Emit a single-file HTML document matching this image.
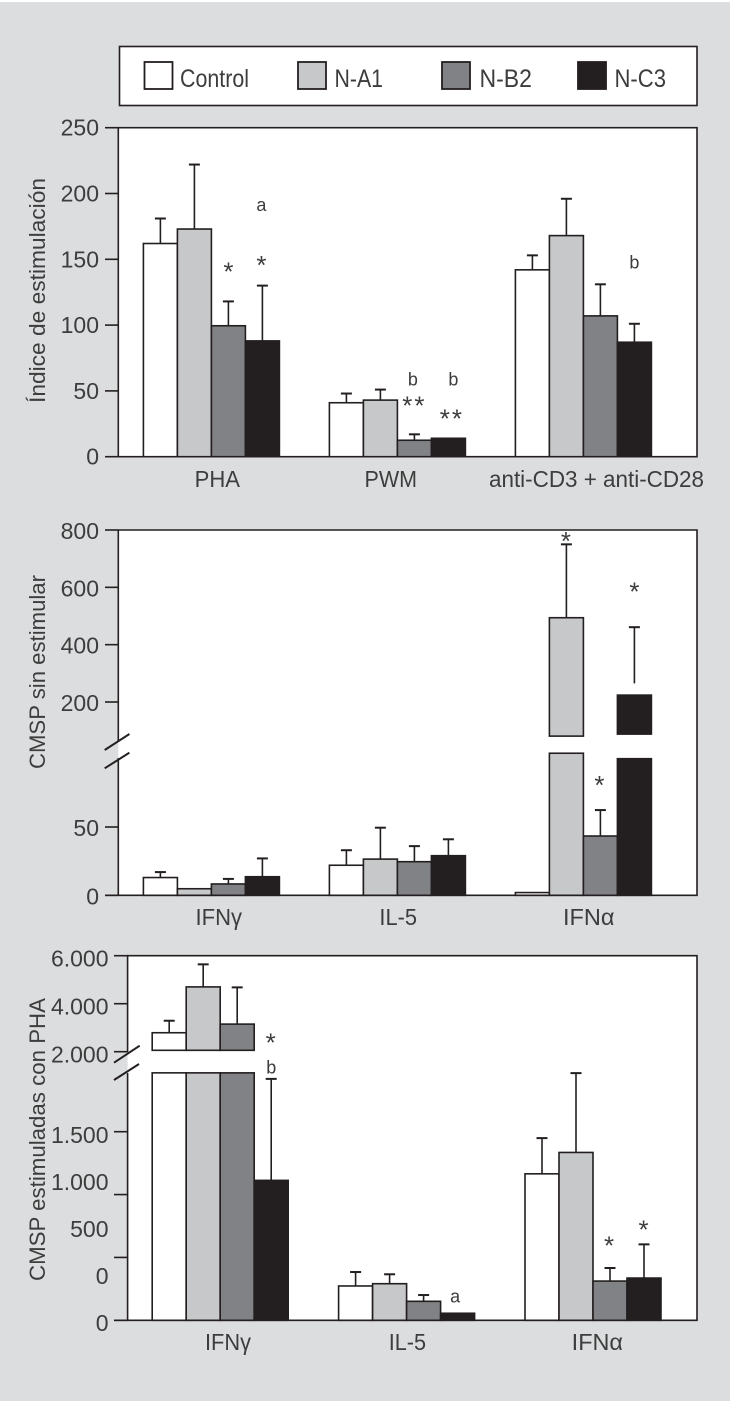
<!DOCTYPE html>
<html lang="es">
<head>
<meta charset="utf-8">
<title>Bar charts</title>
<style>
html,body{margin:0;padding:0;background:#fff;}
svg{display:block;}
text{font-family:"Liberation Sans",sans-serif;fill:#3d3d3d;}
</style>
</head>
<body>
<svg id="chart" xmlns="http://www.w3.org/2000/svg" width="730" height="1403" viewBox="0 0 730 1403">
<rect x="0" y="2" width="730" height="1399" fill="#dcddde"/>
</svg>
<script>
// ---------- shared data ----------
const seriesNames = ['Control', 'N-A1', 'N-B2', 'N-C3'];

// ---------- panel 1: Índice de estimulación ----------
const p1Categories = ['PHA', 'PWM', 'anti-CD3 + anti-CD28'];
const p1Ticks = [0, 50, 100, 150, 200, 250];
const p1Control = [162, 41, 142];
const p1NA1 = [173, 43, 168];
const p1NB2 = [99.5, 12.5, 107];
const p1NC3 = [88, 14, 87];
const p1ControlErr = [181, 48, 153];
const p1NA1Err = [222, 51, 196];
const p1NB2Err = [118, 17, 131];
const p1NC3Err = [130, null, 101];

// ---------- panel 2: CMSP sin estimular ----------
const p2Categories = ['IFNγ', 'IL-5', 'IFNα'];
const p2LowTicks = [0, 50];
const p2HighTicks = [200, 400, 600, 800];
const p2Control = [13, 22, 2];
const p2NA1 = [4.8, 26.5, 494];
const p2NB2 = [8.3, 24.6, 43.4];
const p2NC3 = [13.6, 29, 224];
const p2ControlErr = [17, 33, null];
const p2NA1Err = [null, 49.5, 750];
const p2NB2Err = [12, 36, 62.4];
const p2NC3Err = [27, 41, 461];
const p2NA1BreakTop = [null, null, 104];
const p2NA1BreakBase = [null, null, 81];
const p2NC3BreakTop = [null, null, 100];
const p2NC3BreakBase = [null, null, 88];
const p2NB2ErrFrom = [null, null, 38];
const p2NC3ErrFrom = [null, null, 265];

// ---------- panel 3: CMSP estimuladas con PHA ----------
const p3Categories = ['IFNγ', 'IL-5', 'IFNα'];
const p3LowTicks = [0, 500, 1000, 1500];
const p3HighTicks = [2000, 4000, 6000];
const p3LowLabels = ['0', '0', '500', '1.000', '1.500'];
const p3HighLabels = ['2.000', '4.000', '6.000'];
const p3Control = [2790, 273, 1165];
const p3NA1 = [4700, 291, 1335];
const p3NB2 = [3150, 151, 312];
const p3NC3 = [1113, 56, 336];
const p3ControlErr = [3290, 384, 1449];
const p3NA1Err = [5640, 366, 1966];
const p3NB2Err = [4680, 201, 416];
const p3NC3Err = [1920, null, 604];
const p3ControlBreakTop = [1968, null, null];
const p3ControlBreakBase = [2058, null, null];
const p3NA1BreakTop = [1968, null, null];
const p3NA1BreakBase = [2058, null, null];
const p3NB2BreakTop = [1968, null, null];
const p3NB2BreakBase = [2058, null, null];

// ---------- drawing ----------
const NS = 'http://www.w3.org/2000/svg';
const root = document.getElementById('chart');
const INK = '#231f20';
const FILLS = ['#ffffff', '#c7c8ca', '#808285', '#231f20'];
const BAR_W = 34;

function linear(d0, d1, r0, r1) {
  return function (v) { return r0 + (v - d0) * (r1 - r0) / (d1 - d0); };
}
function make(tag, parent, props) {
  const e = document.createElementNS(NS, tag);
  for (const k in props) e.setAttribute(k, props[k]);
  parent.appendChild(e);
  return e;
}
function line(parent, x1, y1, x2, y2, w) {
  return make('line', parent, { x1: x1, y1: y1, x2: x2, y2: y2, stroke: INK, 'stroke-width': w || 1.6 });
}
function label(parent, str, x1, x2, baseline, size) {
  const t = make('text', parent, { x: x1, y: baseline, 'font-size': size, textLength: x2 - x1, lengthAdjust: 'spacingAndGlyphs' });
  t.textContent = str;
  return t;
}
function rightLabel(parent, str, xRight, baseline) {
  const t = make('text', parent, { x: xRight, y: baseline, 'font-size': 23, 'text-anchor': 'end' });
  t.textContent = str;
  return t;
}
function yTitle(parent, str, x, yBottom, yTop) {
  const t = make('text', parent, { x: 0, y: 0, 'font-size': 22, textLength: yBottom - yTop, lengthAdjust: 'spacingAndGlyphs', transform: 'translate(' + x + ',' + yBottom + ') rotate(-90)' });
  t.textContent = str;
  return t;
}
function drawBar(parent, x, yTop, yBase, s) {
  const r = make('rect', parent, { x: x, y: yTop, width: BAR_W, height: Math.max(0, yBase - yTop), fill: FILLS[s], stroke: INK, 'stroke-width': 1.6 });
  return r;
}
function drawErr(parent, cx, yFrom, yTo) {
  const g = make('g', parent, {});
  line(g, cx, yFrom, cx, yTo, 1.6);
  line(g, cx - 5.5, yTo, cx + 5.5, yTo, 2);
  return g;
}
function annotate(parent, str, cx, yCenter) {
  if (str === '*' || str === '**') {
    const t = make('text', parent, { x: cx, y: yCenter + 11.5, 'font-size': 26, 'text-anchor': 'middle', 'letter-spacing': str === '**' ? 2 : 0 });
    t.textContent = str;
    return t;
  }
  const t = make('text', parent, { x: cx, y: yCenter + (str === 'a' ? 5 : 6.5), 'font-size': 18, 'text-anchor': 'middle' });
  t.textContent = str;
  return t;
}

// ---------- legend ----------
const legend = make('g', root, {});


const legendBox = make('rect', legend, { x: 119.5, y: 46.5, width: 577.5, height: 59, fill: '#fff', stroke: INK, 'stroke-width': 1.6 });


const legendSwatchLeft = [144.5, 298, 442, 578];
const legendTextLeft = [180, 334.5, 479.5, 614.5];
const legendTextRight = [249, 383, 532, 666];
seriesNames.forEach(function (name, s) {
  const sw = make('rect', legend, { x: legendSwatchLeft[s], y: 62, width: 28, height: 27, fill: FILLS[s], stroke: INK, 'stroke-width': 1.8 });
  
  
  const tx = label(legend, name, legendTextLeft[s], legendTextRight[s], 87, 25);
  
  
});

function drawSeriesBars(g, panelKey, cats, x0, step, values, errs, yMain, yLow, breakTops, breakBases, errFroms) {
  cats.forEach(function (cat, c) {
    values.forEach(function (vals, s) {
      const x = x0 + c * step + s * BAR_W;
      const cx = x + BAR_W / 2;
      const base = yLow(0);
      const broken = breakTops && breakTops[s] && breakTops[s][c] !== null && breakTops[s][c] !== undefined;
      const yFn = broken ? yMain : yLow;
      const top = yFn(vals[c]);
      const err = errs[s][c];
      if (err !== null) {
        const from = errFroms && errFroms[s] && errFroms[s][c] !== null && errFroms[s][c] !== undefined
          ? (s === 2 ? yLow(errFroms[s][c]) : yFn(errFroms[s][c])) : top;
        const eb = drawErr(g, cx, from, yFn(err));
        
        
      }
      if (broken) {
        const upper = drawBar(g, x, top, yMain(breakBases[s][c]), s);
        
        
        const lower = drawBar(g, x, yLow(breakTops[s][c]), base, s);
        
        
      } else {
        const bar = drawBar(g, x, top, base, s);
        
        
      }
    });
  });
}

// ---------- panel 1 ----------
(function () {
  const g = make('g', root, {});
  
  
  const y = linear(0, 250, 456.7, 127.7);
  const plot = make('rect', g, { x: 118.3, y: 127.7, width: 578.7, height: 329, fill: '#fff', stroke: INK, 'stroke-width': 1.6 });
  
  
  p1Ticks.forEach(function (v) {
    const tk = line(g, 105, y(v), 118.3, y(v));
    
    
    const tl = rightLabel(g, String(v), 99, y(v) + 8);
    
    
  });
  const values = [p1Control, p1NA1, p1NB2, p1NC3];
  const errs = [p1ControlErr, p1NA1Err, p1NB2Err, p1NC3Err];
  drawSeriesBars(g, 'p1', p1Categories, 143.4, 186, values, errs, y, y, null, null, null);
  const title = yTitle(g, 'Índice de estimulación', 45, 403, 178);
  
  
  const xLefts = [194.6, 364.5, 489];
  const xRights = [240, 417, 704];
  p1Categories.forEach(function (cat, c) {
    const xl = label(g, cat, xLefts[c], xRights[c], 487, 23);
    
    
  });
  const xBar = function (c, s, dx) { return 143.4 + c * 186 + s * BAR_W + BAR_W / 2 + dx; };
  const notes = [['*', 0, 2, 142.6, 0], ['*', 0, 3, 147.7, -1], ['a', 0, 3, 190.5, -1],
    ['b', 1, 2, 59, -1.5], ['b', 1, 3, 59, 5], ['**', 1, 2, 40.8, 0], ['**', 1, 3, 30.8, 3.5], ['b', 2, 3, 148, 0]];
  notes.forEach(function (n) {
    const a = annotate(g, n[0], xBar(n[1], n[2], n[4]), y(n[3]));
    
    
  });
})();

// ---------- panel 2 ----------
(function () {
  const g = make('g', root, {});
  
  
  const yLow = linear(0, 50, 895.3, 827);
  const yHigh = linear(200, 800, 702, 530);
  const plot = make('rect', g, { x: 118.3, y: 530, width: 578.7, height: 365.3, fill: '#fff' });
  
  
  const frame = make('path', g, { d: 'M118.3 741V530H697V895.3H105M118.3 895.3V758', fill: 'none', stroke: INK, 'stroke-width': 1.6 });
  
  
  p2HighTicks.forEach(function (v) {
    const tk = line(g, 105, yHigh(v), 118.3, yHigh(v));
    
    
    const tl = rightLabel(g, String(v), 99, yHigh(v) + 9);
    
    
  });
  p2LowTicks.forEach(function (v) {
    const tk = line(g, 105, yLow(v), 118.3, yLow(v));
    
    
    const tl = rightLabel(g, String(v), 99, yLow(v) + 9);
    
    
  });
  const s1 = line(g, 104.7, 750, 129.4, 734, 2);
  
  
  const s2 = line(g, 104.7, 768.3, 129.4, 752.7, 2);
  
  
  const values = [p2Control, p2NA1, p2NB2, p2NC3];
  const errs = [p2ControlErr, p2NA1Err, p2NB2Err, p2NC3Err];
  const tops = [null, p2NA1BreakTop, null, p2NC3BreakTop];
  const bases = [null, p2NA1BreakBase, null, p2NC3BreakBase];
  const froms = [null, null, p2NB2ErrFrom, p2NC3ErrFrom];
  drawSeriesBars(g, 'p2', p2Categories, 143.4, 186, values, errs, yHigh, yLow, tops, bases, froms);
  const title = yTitle(g, 'CMSP sin estimular', 45, 769, 575);
  
  
  const xLefts = [195.5, 379.4, 563];
  const xRights = [242, 417, 614.5];
  p2Categories.forEach(function (cat, c) {
    const xl = label(g, cat, xLefts[c], xRights[c], 925, 23);
    
    
  });
  const xBar = function (c, s) { return 143.4 + c * 186 + s * BAR_W + BAR_W / 2; };
  const a1 = annotate(g, '*', xBar(2, 1) - 0.5, yHigh(771));
  
  
  const a2 = annotate(g, '*', xBar(2, 3), yHigh(595));
  
  
  const a3 = annotate(g, '*', xBar(2, 2) - 1, yLow(82.7));
  
  
})();

// ---------- panel 3 ----------
(function () {
  const g = make('g', root, {});
  
  
  const yLow = linear(0, 1500, 1320.3, 1131.7);
  const yHigh = linear(2000, 6000, 1051.7, 955.7);
  const plot = make('rect', g, { x: 127.6, y: 955.7, width: 569.4, height: 364.6, fill: '#fff' });
  
  
  const frame = make('path', g, { d: 'M127.6 1052V955.7H697V1320.3H114M127.6 1320.3V1073', fill: 'none', stroke: INK, 'stroke-width': 1.6 });
  
  
  p3HighTicks.forEach(function (v, i) {
    const tk = line(g, 114, yHigh(v), 127.6, yHigh(v));
    
    
    const tl = rightLabel(g, p3HighLabels[i], 108.5, yHigh(v) + 11);
    
    
  });
  p3LowTicks.forEach(function (v) {
    const tk = line(g, 114, yLow(v), 127.6, yLow(v));
    
    
  });
  p3LowLabels.forEach(function (txt, i) {
    const tl = rightLabel(g, txt, 108.5, 1331 - i * 47);
    
    
  });
  const s1 = line(g, 114, 1062.7, 139.7, 1045.7, 2);
  
  
  const s2 = line(g, 114, 1080, 139, 1064, 2);
  
  
  const values = [p3Control, p3NA1, p3NB2, p3NC3];
  const errs = [p3ControlErr, p3NA1Err, p3NB2Err, p3NC3Err];
  const tops = [p3ControlBreakTop, p3NA1BreakTop, p3NB2BreakTop, null];
  const bases = [p3ControlBreakBase, p3NA1BreakBase, p3NB2BreakBase, null];
  drawSeriesBars(g, 'p3', p3Categories, 152.2, 186.4, values, errs, yHigh, yLow, tops, bases, null);
  const title = yTitle(g, 'CMSP estimuladas con PHA', 45, 1281, 998);
  
  
  const xLefts = [205, 388.7, 571.7];
  const xRights = [251, 426, 623];
  p3Categories.forEach(function (cat, c) {
    const xl = label(g, cat, xLefts[c], xRights[c], 1350, 23);
    
    
  });
  const xBar = function (c, s) { return 152.2 + c * 186.4 + s * BAR_W + BAR_W / 2; };
  const a1 = annotate(g, '*', xBar(0, 3) - 0.5, yHigh(2490));
  
  
  const a2 = annotate(g, 'b', xBar(0, 3), yLow(2016));
  
  
  const a3 = annotate(g, 'a', xBar(1, 3) - 2.5, yLow(183));
  
  
  const a4 = annotate(g, '*', xBar(2, 2) - 1, yLow(614));
  
  
  const a5 = annotate(g, '*', xBar(2, 3) - 0.5, yLow(744));
  
  
})();
</script>
</body>
</html>
